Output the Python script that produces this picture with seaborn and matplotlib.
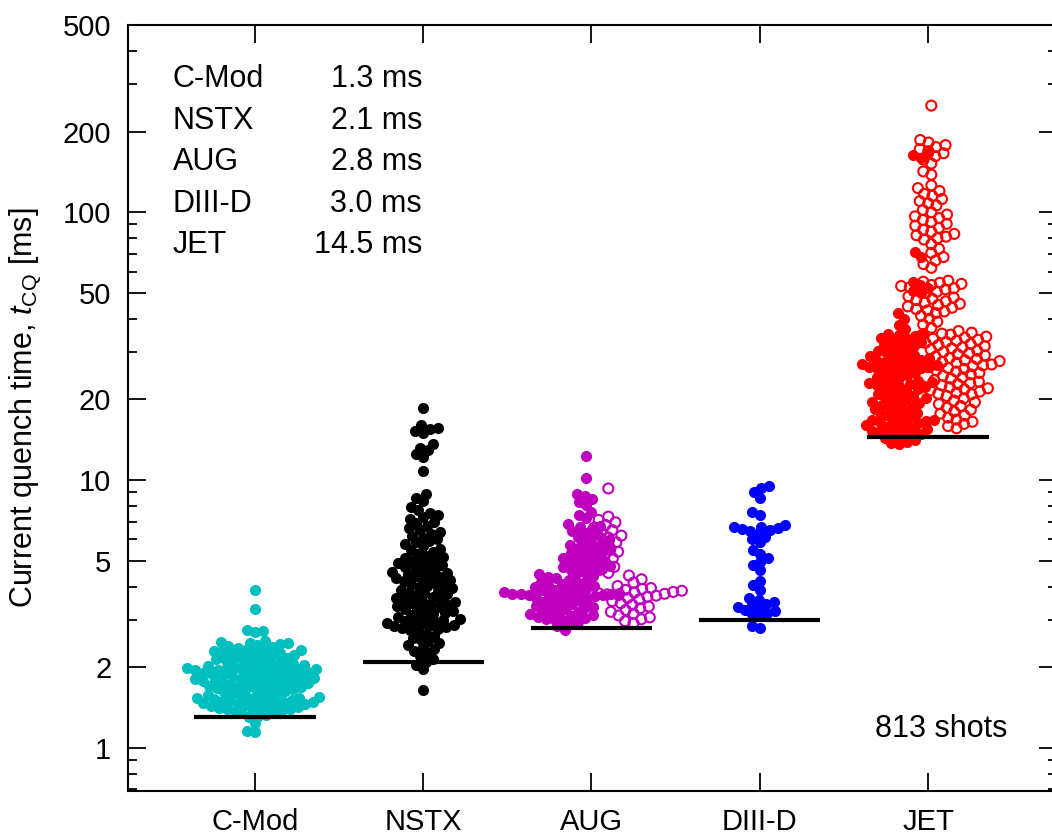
import warnings
import numpy as np
import pandas as pd
import matplotlib
matplotlib.use("Agg")
import matplotlib.pyplot as plt
from matplotlib.ticker import LogLocator, FormatStrFormatter, NullFormatter
import seaborn as sns

warnings.filterwarnings("ignore")

machines = ["C-Mod", "NSTX", "AUG", "DIII-D", "JET"]
min_tcq = [1.3, 2.1, 2.8, 3.0, 14.5]
n_shots = 813

# current quench times [ms]
cmod = [3.9, 3.3, 2.76, 2.73, 2.7,
        2.5, 2.49, 2.47, 2.46, 2.44, 2.42, 2.4, 2.38, 2.36, 2.34, 2.32, 2.31,
        2.3, 2.29, 2.27, 2.26, 2.25, 2.23, 2.22, 2.2, 2.19, 2.18, 2.16, 2.15,
        2.14, 2.12, 2.11, 2.1, 2.08, 2.07, 2.06, 2.04, 2.03, 2.02, 2.01,
        2.0, 1.99, 1.99, 1.98, 1.97, 1.97, 1.96, 1.95, 1.95, 1.94, 1.93, 1.93,
        1.92, 1.91, 1.9, 1.89, 1.88, 1.88, 1.87, 1.86, 1.85, 1.84, 1.83, 1.82,
        1.81, 1.8, 1.8, 1.79,
        1.78, 1.77, 1.76, 1.76, 1.75, 1.74, 1.74, 1.73, 1.72, 1.71, 1.7, 1.69,
        1.69, 1.68, 1.67, 1.66, 1.65, 1.64, 1.63, 1.62, 1.61, 1.6, 1.59, 1.58,
        1.57,
        1.56, 1.55, 1.54, 1.54, 1.53, 1.53, 1.52, 1.51, 1.51, 1.5,
        1.5, 1.49, 1.48, 1.48, 1.47, 1.46, 1.46, 1.45, 1.44, 1.43, 1.43, 1.42,
        1.41, 1.41, 1.4, 1.4, 1.39, 1.38,
        1.37, 1.36, 1.35, 1.33, 1.32, 1.3, 1.24, 1.16, 1.15]

nstx = [18.5, 16.0, 15.7, 15.5, 15.2, 15.0, 13.6, 13.2, 12.9, 12.5, 12.2, 10.8,
        8.9, 8.6, 8.35,
        7.9, 7.7, 7.55, 7.4, 7.3, 7.15, 7.0, 6.9, 6.75, 6.6, 6.5,
        6.4, 6.3, 6.2, 6.1, 6.0, 5.9, 5.85, 5.75, 5.65, 5.55, 5.5, 5.4, 5.3,
        5.22, 5.15,
        5.1, 5.05, 5.0, 4.95, 4.9, 4.85, 4.8, 4.75, 4.7, 4.65, 4.6, 4.55, 4.5,
        4.46, 4.42, 4.38, 4.34, 4.3, 4.26, 4.22, 4.18, 4.14, 4.1, 4.06, 4.02,
        3.98, 3.94, 3.9, 3.86, 3.82, 3.78, 3.74, 3.7, 3.66, 3.62, 3.59, 3.56,
        3.53, 3.5, 3.47,
        3.44, 3.41, 3.38, 3.35, 3.32, 3.29, 3.26, 3.23, 3.2, 3.17, 3.14, 3.11,
        3.08, 3.05, 3.02, 3.0, 2.98, 2.96, 2.94, 2.92, 2.9, 2.88, 2.86, 2.84,
        2.82, 2.8, 2.78, 2.76,
        2.72, 2.67, 2.62, 2.58, 2.54, 2.5, 2.46, 2.42, 2.38, 2.34, 2.3, 2.25,
        2.2, 2.15, 2.1, 2.03, 1.97, 1.64]

aug_filled = [12.3, 10.2, 8.9, 8.7, 8.5, 8.3, 8.1, 7.6, 7.4, 7.2,
              6.85, 6.75, 6.65, 6.55, 6.45, 6.35, 6.25, 6.15, 6.05, 5.95, 5.88,
              5.8, 5.72, 5.65, 5.58, 5.52, 5.46,
              5.4, 5.34, 5.28, 5.22, 5.16, 5.1, 5.04, 4.98, 4.92, 4.87, 4.82,
              4.77, 4.72, 4.67, 4.62, 4.57, 4.53, 4.49,
              4.45, 4.41, 4.37, 4.33, 4.29, 4.25, 4.21, 4.17, 4.13, 4.09, 4.05,
              4.02, 3.99,
              3.96, 3.93, 3.9, 3.87, 3.84, 3.81, 3.79, 3.77, 3.76, 3.75, 3.74,
              3.73, 3.72, 3.71, 3.7, 3.68, 3.66, 3.63, 3.6, 3.57,
              3.54, 3.51, 3.48, 3.45, 3.42, 3.39, 3.36, 3.33, 3.3, 3.27, 3.24,
              3.21, 3.18, 3.15, 3.12, 3.1, 3.08, 3.06, 3.04, 3.02, 3.0,
              2.96, 2.9, 2.84, 2.76]

aug_open = [9.3, 7.3, 7.1, 6.95, 6.8, 6.65, 6.5, 6.35, 6.2, 6.1, 5.98,
            5.85, 5.7, 5.55, 5.4, 5.25, 5.1, 4.98, 4.86, 4.74, 4.62, 4.5,
            4.4, 4.26, 4.14, 4.02,
            3.95, 3.92, 3.89, 3.86, 3.84, 3.82, 3.8, 3.78, 3.76, 3.74, 3.72,
            3.7, 3.67, 3.63, 3.58, 3.53, 3.47, 3.42, 3.37,
            3.32, 3.27, 3.22, 3.17, 3.12, 3.07, 3.02, 2.97, 2.92]

diiid = [9.5, 9.3, 9.0, 8.6, 7.6, 7.4,
         6.8, 6.7, 6.65, 6.6, 6.55, 6.5, 6.45, 6.3, 6.15, 6.0, 5.85,
         5.5, 5.3, 5.1, 4.95, 4.8, 4.62,
         4.2, 4.05, 3.9,
         3.62, 3.55, 3.5, 3.45, 3.4, 3.36, 3.32, 3.28, 3.24, 3.2, 3.15, 3.1,
         2.85, 2.8]

jet_filled = [167, 163, 160, 71, 68, 55, 53.5, 52, 51, 50, 42, 40, 38, 36.5,
              35.5, 35.2, 34.8, 34.4, 34, 33.6, 33.2, 32.8, 32.4, 32, 31.6,
              31.2, 30.8, 30.4, 30, 29.7, 29.4, 29.1, 28.8, 28.5, 28.3, 28.1,
              27.9, 27.7, 27.5, 27.3, 27.1, 26.9, 26.7, 26.5, 26.4, 26.3, 26.2,
              26.1,
              25.8, 25.5, 25.2, 24.9, 24.6, 24.3, 24, 23.7, 23.4, 23.2, 23,
              22.9, 22.8, 22.6, 22.4, 22.2, 22, 21.8, 21.6, 21.3, 21,
              20.8, 20.6, 20.4, 20.2, 20, 19.8, 19.6, 19.4, 19.2, 19, 18.8,
              18.6, 18.4, 18.2, 18, 17.8, 17.6, 17.4, 17.2, 17, 16.8, 16.7,
              16.6, 16.5, 16.4, 16.3, 16.2, 16, 15.8, 15.7,
              15.5, 15.4, 15.3, 15.2, 15.1, 15, 14.8, 14.6, 14.4,
              14.1, 13.9, 13.8, 13.6]

jet_open = [250, 186, 182, 178, 175, 172, 169, 166, 162, 157, 152, 142, 138,
            126, 123, 120, 117, 115, 112, 110, 108, 106,
            102, 100, 98, 96.5, 95, 93.5, 92, 90.5, 89, 87.5, 86, 84.5, 83, 82,
            81, 80, 79,
            76, 73, 70.5, 68, 66, 64, 62,
            55.5, 55, 54.5, 54, 53.5, 53, 52.5, 52, 51.5, 51, 50.5, 50,
            48.5, 48, 47.5, 47, 46.5, 46, 45.5, 45, 44.5, 44, 43.5, 43, 42.6,
            42, 41, 40, 39, 38, 37, 36,
            35.5, 35.2, 34.9, 34.6, 34.3, 34, 33.7, 33.4, 33.1, 32.8, 32.5,
            32.2, 31.9, 31.6, 31.3, 31, 30.7, 30.4, 30.1, 29.8, 29.5, 29.2,
            28.9, 28.6, 28.3, 28, 27.8, 27.6, 27.4, 27.2, 27, 26.8, 26.6, 26.4,
            26.2, 26,
            25.7, 25.4, 25.1, 24.8, 24.5, 24.2, 23.9, 23.6, 23.3, 23, 22.8,
            22.6, 22.4, 22.2, 22, 21.8, 21.6, 21.4, 21.2, 21, 20.9,
            20.6, 20.2, 19.8, 19.5, 19.2, 18.9, 18.6, 18.3, 18, 17.7, 17.4,
            17.1, 16.8, 16.5, 16.2, 15.9, 15.6]

colors = {"C-Mod": "#00bfbf", "NSTX": "#000000", "AUG": "#bf00bf",
          "DIII-D": "#0000ff", "JET": "#ff0000"}


def above(vals, cut):
    return [v for v in vals if v > cut]


def below(vals, cut):
    return [v for v in vals if v <= cut]


# (machine, values, shift from category centre, filled marker)
groups = [
    ("C-Mod", cmod, 0.0, True),
    ("NSTX", nstx, 0.0, True),
    ("AUG", above(aug_filled, 4.46), -0.03, True),
    ("AUG", below(aug_filled, 4.46), -0.16, True),
    ("DIII-D", diiid, 0.0, True),
    ("JET", above(jet_filled, 45), -0.04, True),
    ("JET", below(jet_filled, 45), -0.17, True),
    ("AUG", above(aug_open, 4.45), 0.1, False),
    ("AUG", below(aug_open, 4.45), 0.25, False),
    ("JET", above(jet_open, 36.2), 0.02, False),
    ("JET", below(jet_open, 36.2), 0.17, False),
]

step = 0.5  # data units between neighbouring machines (gives each swarm room)

sns.set_theme(style="ticks")
plt.rcParams["font.family"] = ["Liberation Sans", "DejaVu Sans"]
plt.rcParams["mathtext.fontset"] = "custom"
plt.rcParams["mathtext.rm"] = "Liberation Sans"
plt.rcParams["mathtext.it"] = "Liberation Sans:italic"
plt.rcParams["text.color"] = "black"
plt.rcParams["axes.labelcolor"] = "black"

fig = plt.figure(figsize=(10.52, 8.34), dpi=100)
ax = fig.add_axes([128 / 1052, 43 / 834, 929 / 1052, 766 / 834])
ax.set_yscale("log")

swarms = []
for name, vals, shift, filled in groups:
    df = pd.DataFrame({"pos": (machines.index(name) + shift) * step, "tcq": vals})
    c = colors[name]
    if filled:
        sns.swarmplot(data=df, x="pos", y="tcq", native_scale=True, color=c,
                      size=5.6, linewidth=0, ax=ax)
        swarms.append((ax.collections[-1], 8.0, 0))
    else:
        sns.swarmplot(data=df, x="pos", y="tcq", native_scale=True, color=c,
                      size=5.0, linewidth=1.0, edgecolor=c, ax=ax)
        ax.collections[-1].set_facecolor("none")
        swarms.append((ax.collections[-1], 7.2, 1.5))

centres = np.arange(len(machines)) * step
ax.set_xlim(-0.755 * step, 4.767 * step)
ax.set_ylim(0.69, 500)

# lay the swarms out once, then keep those positions and draw the markers
# a bit larger so that neighbours overlap as in the original figure
fig.canvas.draw()
for coll, size, lw in swarms:
    coll.__dict__.pop("draw", None)
    coll.set_sizes([size ** 2])
    coll.set_linewidth(lw)

ax.hlines(min_tcq, centres - 0.36 * step, centres + 0.36 * step,
          color="black", lw=3, zorder=6)

ax.set_xticks(centres, machines)
ax.yaxis.set_major_locator(LogLocator(base=10, subs=(1, 2, 5)))
ax.yaxis.set_minor_locator(LogLocator(base=10, subs=(3, 4, 6, 7, 8, 9)))
ax.yaxis.set_major_formatter(FormatStrFormatter("%g"))
ax.yaxis.set_minor_formatter(NullFormatter())
ax.tick_params(which="both", direction="in", top=True, right=True, width=1.3,
               color="black", labelcolor="black")
ax.tick_params(which="major", length=13, labelsize=21, pad=12)
ax.tick_params(which="minor", length=6.5)
ax.tick_params(axis="x", which="minor", top=False, bottom=False)
for sp in ax.spines.values():
    sp.set_linewidth(1.5)
    sp.set_color("black")

ax.set_xlabel("")
ax.set_ylabel("Current quench time, $t_{\\mathrm{CQ}}$ [ms]", fontsize=22,
              labelpad=14)

for i, (name, v) in enumerate(zip(machines, min_tcq)):
    y = 0.919 - i * 0.0542
    ax.text(0.0484, y, name, transform=ax.transAxes, fontsize=22,
            va="baseline", ha="left")
    ax.text(0.3165, y, f"{v:.1f} ms", transform=ax.transAxes, fontsize=22,
            va="baseline", ha="right")

ax.text(0.947, 0.0705, f"{n_shots} shots", transform=ax.transAxes, fontsize=22,
        va="baseline", ha="right")

fig.savefig("out.png", dpi=100)
